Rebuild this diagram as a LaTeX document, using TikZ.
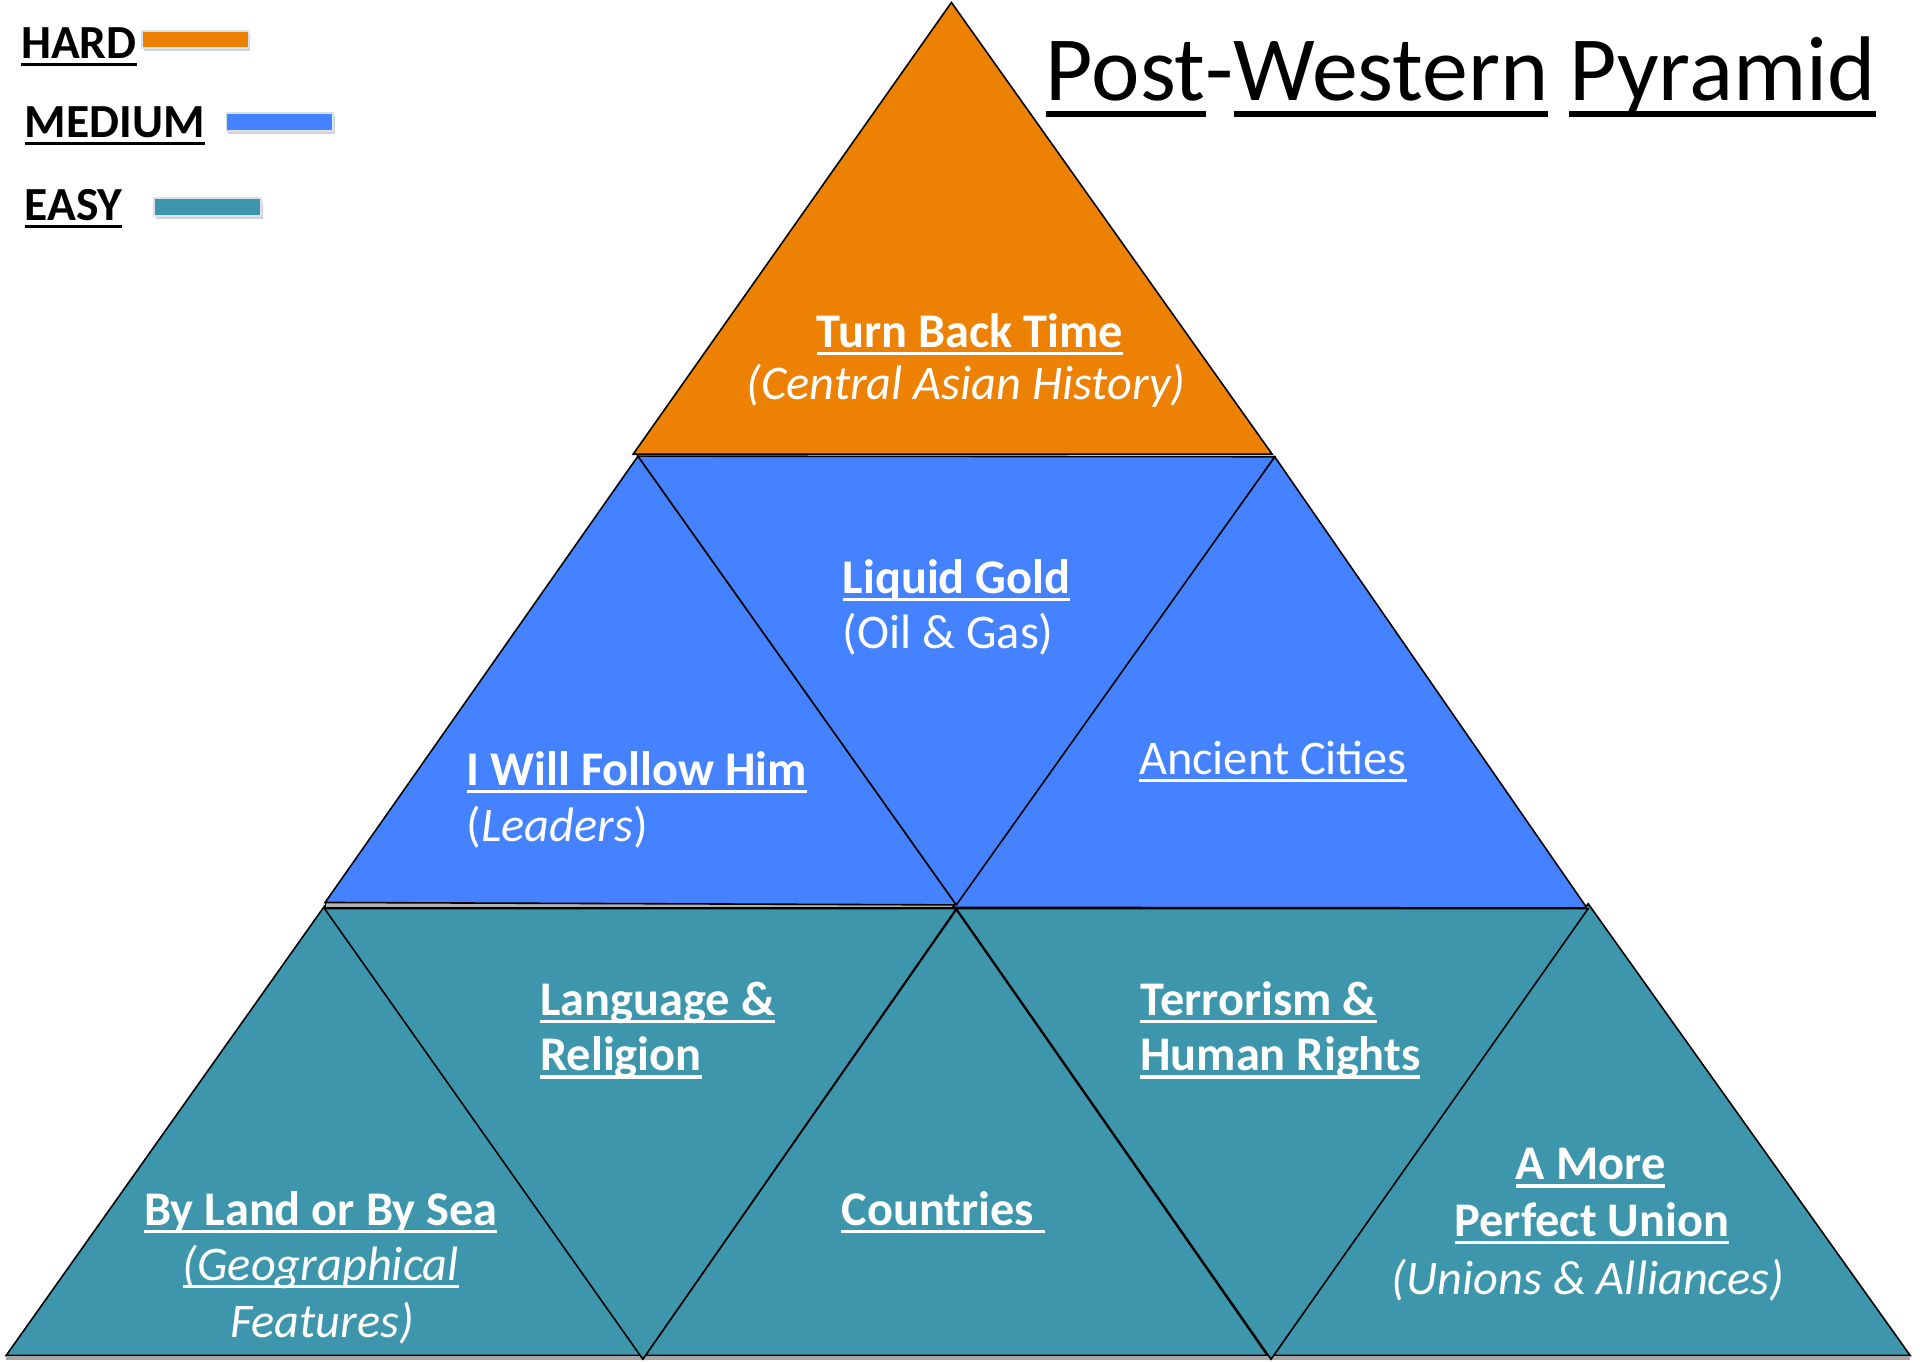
\documentclass[tikz,border=0pt]{standalone}
\usepackage{fontspec}
\setmainfont{Carlito}
\usetikzlibrary{shadows}
\definecolor{hardc}{RGB}{236,129,4}
\definecolor{medc}{RGB}{68,130,255}
\definecolor{easyc}{RGB}{61,150,171}
\definecolor{barb}{RGB}{214,226,238}
\newsavebox\myulbox
\newcommand\ulT[1]{\sbox\myulbox{#1}\rlap{\rule[-6.3pt]{\wd\myulbox}{2.7pt}}\usebox\myulbox}
\newcommand\ulBig[1]{\sbox\myulbox{#1}\rlap{\rule[-13.8pt]{\wd\myulbox}{5pt}}\usebox\myulbox}
\begin{document}
\begin{tikzpicture}[x=1pt,y=-1pt,
  tri/.style={draw=black,line width=1.3pt,line join=miter},
  lbl/.style={text=white,inner sep=0pt,font=\fontsize{39.5}{46}\selectfont},
  leg/.style={text=black,inner sep=0pt,anchor=base west,font=\fontsize{38.8}{44}\selectfont\bfseries},
  bar/.style={draw=barb,line width=1.5pt,drop shadow={shadow xshift=1.5pt,shadow yshift=-2.5pt,opacity=.35}}]
\useasboundingbox[fill=white] (0,0) rectangle (1568,1111.5);
% top
\path[tri,fill=hardc] (777,2) -- (517,371) -- (1039,371) -- cycle;
% middle row
\path[fill=black!30,draw=black,line width=1pt] (266,736) -- (780,736) -- (780,741) -- (266,741) -- cycle;
\path[tri,fill=medc] (521,372.5) -- (265.5,737) -- (781,739) -- cycle;
\path[tri,fill=medc] (1041,373) -- (778,741) -- (1296,741.5) -- cycle;
\path[tri,fill=medc] (521,372.5) -- (1041,373) -- (781,739) -- cycle;
% bottom row
\path[draw=black!35,line width=2pt] (5,1109.5) -- (1560,1109.5);
\path[tri,fill=easyc] (265,740) -- (5,1107) -- (525,1107) -- cycle;
\path[tri,fill=easyc] (781,743) -- (527,1107) -- (1035,1107) -- cycle;
\path[tri,fill=easyc] (1297,738) -- (1040,1107) -- (1560,1107) -- cycle;
\path[tri,fill=easyc] (265,742) -- (781,742) -- (525,1110) -- cycle;
\path[tri,fill=easyc] (781,742) -- (1297,742) -- (1038,1110) -- cycle;
% legend
\node[leg] (hard) at (17,48) {\ulT{HARD}};
\node[leg] (medium) at (20,112) {\ulT{MEDIUM}};
\node[leg] (easy) at (20,180) {\ulT{EASY}};
\path[bar,fill=hardc] (116,25.5) rectangle (203,39.5);
\path[bar,fill=medc] (185,92.5) rectangle (272,107);
\path[bar,fill=easyc] (126,162) rectangle (213,176.5);
% title
\node[inner sep=0pt,anchor=base west,font=\fontsize{75}{80}\selectfont] (title) at (854,82) {\ulBig{Post}-\ulBig{Western} \ulBig{Pyramid}};
% labels
\node[lbl,anchor=base] (turn) at (792,283.5) {\bfseries\ulT{Turn Back Time}};
\node[lbl,anchor=base] (turnsub) at (789,326.5) {\itshape (Central Asian History)};
\node[lbl,anchor=base west] (gold) at (688,484.5) {\bfseries\ulT{Liquid Gold}};
\node[lbl,anchor=base west] (goldsub) at (688,529.5) {(Oil \& Gas)};
\node[lbl,anchor=base west] (follow) at (381,641.5) {\bfseries\ulT{I Will Follow Him}};
\node[lbl,anchor=base west] (followsub) at (381,687.5) {(\textit{Leaders})};
\node[lbl,anchor=base west] (cities) at (930,632.5) {\ulT{Ancient Cities}};
\node[lbl,anchor=base west] (lang1) at (441,829.5) {\bfseries\ulT{Language \&}};
\node[lbl,anchor=base west] (lang2) at (441,874.5) {\bfseries\ulT{Religion}};
\node[lbl,anchor=base west] (terr1) at (931,829.5) {\bfseries\ulT{Terrorism \&}};
\node[lbl,anchor=base west] (terr2) at (931,874.5) {\bfseries\ulT{Human Rights}};
\node[lbl,anchor=base] (land1) at (262,1000.5) {\bfseries\ulT{By Land or By Sea}};
\node[lbl,anchor=base] (land2) at (262,1045.5) {\itshape\ulT{(Geographical}};
\node[lbl,anchor=base] (land3) at (263,1092.5) {\itshape Features)};
\node[lbl,anchor=base west] (countries) at (687,1000.5) {\bfseries\ulT{Countries\ }};
\node[lbl,anchor=base] (union1) at (1299,963.5) {\bfseries\ulT{A More}};
\node[lbl,anchor=base] (union2) at (1300,1009.5) {\bfseries\ulT{Perfect Union}};
\node[lbl,anchor=base] (union3) at (1297,1057.5) {\itshape (Unions \& Alliances)};
\end{tikzpicture}
\end{document}
